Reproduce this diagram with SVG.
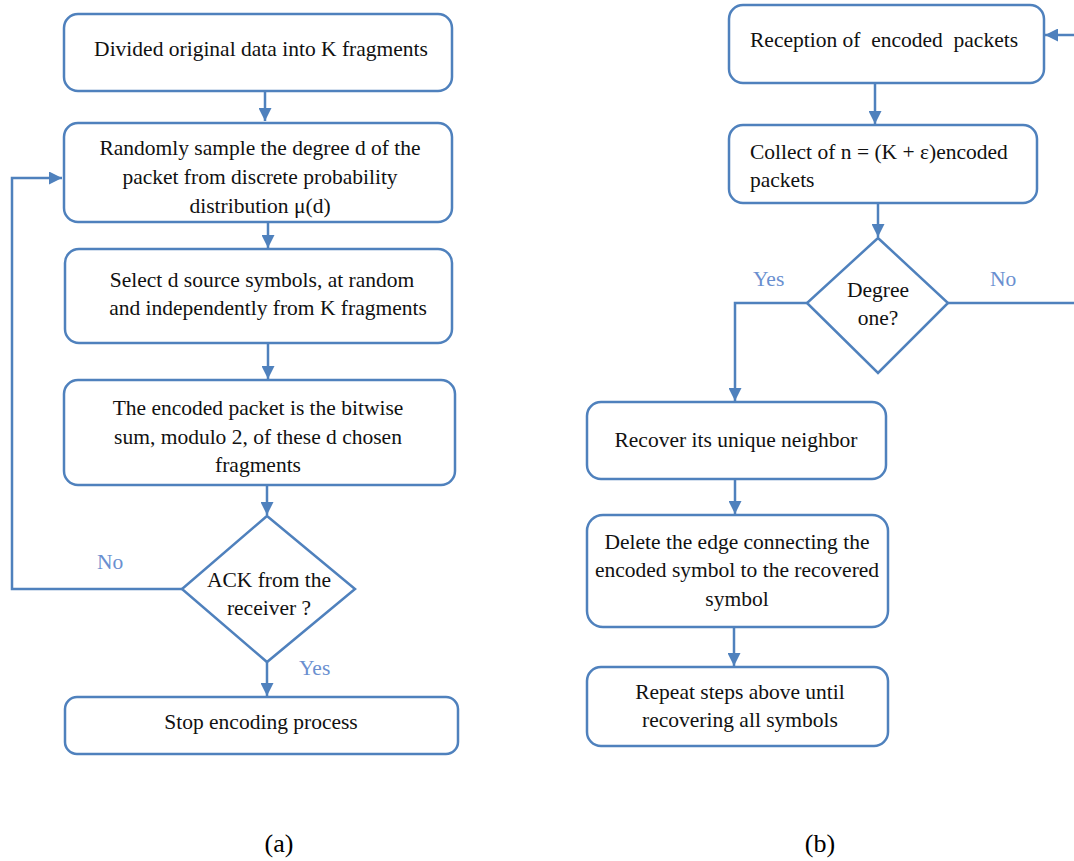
<svg xmlns="http://www.w3.org/2000/svg" width="1074" height="861" viewBox="0 0 1074 861">
<style>
.box{fill:#fff;stroke:#4f81bd;stroke-width:2.5}
.ln{fill:none;stroke:#4f81bd;stroke-width:2.5}
.t{font-family:"Liberation Serif",serif;font-size:21.5px;fill:#111;white-space:pre}
.c{text-anchor:middle}
.lab{font-family:"Liberation Serif",serif;font-size:21.5px;fill:#6a8fd0}
.cap{font-family:"Liberation Serif",serif;font-size:26px;fill:#000;text-anchor:middle}
</style>
<defs>
<marker id="a" viewBox="0 0 10 10" refX="10" refY="5" markerWidth="13" markerHeight="13" orient="auto" markerUnits="userSpaceOnUse">
<path d="M0,0 L10,5 L0,10 z" fill="#4f81bd"/>
</marker>
</defs>
<g id="connectors">
<path class="ln" d="M265,92 V121" marker-end="url(#a)"/>
<path class="ln" d="M268,222 V248" marker-end="url(#a)"/>
<path class="ln" d="M268,343 V379" marker-end="url(#a)"/>
<path class="ln" d="M267,485 V515" marker-end="url(#a)"/>
<path class="ln" d="M267,662 V696" marker-end="url(#a)"/>
<path class="ln" d="M182,589 H12 V178 H62" marker-end="url(#a)"/>
<path class="ln" d="M1074,35 H1045" marker-end="url(#a)"/>
<path class="ln" d="M875,83 V124" marker-end="url(#a)"/>
<path class="ln" d="M878,203 V237" marker-end="url(#a)"/>
<path class="ln" d="M807,303 H735 V401" marker-end="url(#a)"/>
<path class="ln" d="M948,303 H1074"/>
<path class="ln" d="M735,479 V514" marker-end="url(#a)"/>
<path class="ln" d="M734,627 V666" marker-end="url(#a)"/>
</g>
<g id="labels">
<text class="lab" x="97" y="569">No</text>
<text class="lab" x="299" y="675">Yes</text>
<text class="lab" x="753" y="286">Yes</text>
<text class="lab" x="990" y="286">No</text>
</g>
<g id="a1"><rect class="box" x="64" y="14" width="388" height="77" rx="14"/>
<text class="t c" x="261" y="56">Divided original data into K fragments</text></g>
<g id="a2"><rect class="box" x="64" y="123" width="388" height="99" rx="14"/>
<text class="t c" x="260" y="155">Randomly sample the degree d of the</text>
<text class="t c" x="260" y="184">packet from discrete probability</text>
<text class="t c" x="260" y="213">distribution μ(d)</text></g>
<g id="a3"><rect class="box" x="65" y="249" width="387" height="94" rx="14"/>
<text class="t c" x="262" y="287">Select d source symbols, at random</text>
<text class="t c" x="268" y="315">and independently from K fragments</text></g>
<g id="a4"><rect class="box" x="64" y="380" width="391" height="105" rx="14"/>
<text class="t c" x="258" y="415">The encoded packet is the bitwise</text>
<text class="t c" x="258" y="444">sum, modulo 2, of these d chosen</text>
<text class="t c" x="258" y="472">fragments</text></g>
<g id="a5"><path class="box" d="M267,516 L355,589 L267,662 L182,589 Z"/>
<text class="t c" x="269" y="587">ACK from the</text>
<text class="t c" x="269" y="615">receiver ?</text></g>
<g id="a6"><rect class="box" x="65" y="697" width="393" height="57" rx="12"/>
<text class="t c" x="261" y="729">Stop encoding process</text></g>
<g id="b1"><rect class="box" x="729" y="5" width="315" height="78" rx="14"/>
<text class="t" x="750" y="47">Reception of  encoded  packets</text></g>
<g id="b2"><rect class="box" x="729" y="125" width="308" height="78" rx="14"/>
<text class="t" x="750" y="159">Collect of n = (K + ε)encoded</text>
<text class="t" x="750" y="187">packets</text></g>
<g id="b3"><path class="box" d="M878,238 L948,303 L878,373 L807,303 Z"/>
<text class="t c" x="878" y="297">Degree</text>
<text class="t c" x="878" y="325">one?</text></g>
<g id="b4"><rect class="box" x="587" y="402" width="299" height="77" rx="14"/>
<text class="t c" x="736" y="447">Recover its unique neighbor</text></g>
<g id="b5"><rect class="box" x="587" y="515" width="301" height="112" rx="16"/>
<text class="t c" x="737" y="549">Delete the edge connecting the</text>
<text class="t c" x="737" y="577">encoded symbol to the recovered</text>
<text class="t c" x="737" y="606">symbol</text></g>
<g id="b6"><rect class="box" x="587" y="667" width="301" height="79" rx="14"/>
<text class="t c" x="740" y="699">Repeat steps above until</text>
<text class="t c" x="740" y="727">recovering all symbols</text></g>
<text class="cap" x="279" y="852">(a)</text>
<text class="cap" x="820" y="852">(b)</text>
</svg>
